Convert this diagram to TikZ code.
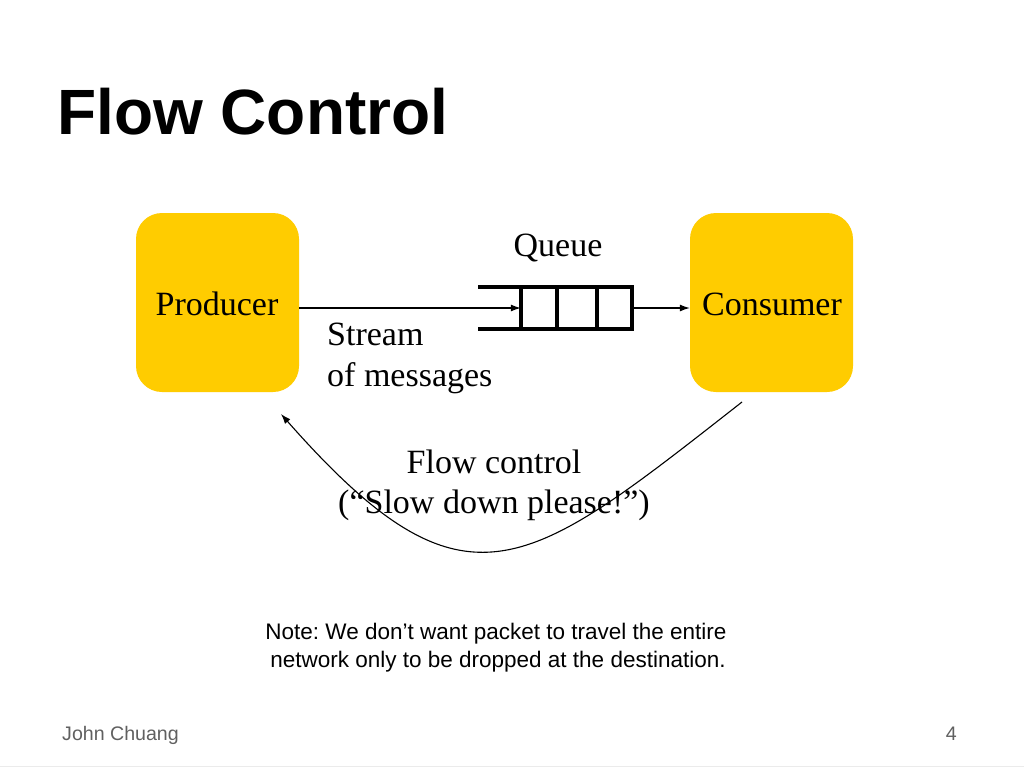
\documentclass[tikz,border=0pt]{standalone}
\usepackage{fontspec}
\setmainfont{Liberation Serif}
\newfontfamily\arialfont{Liberation Sans}
\usetikzlibrary{arrows.meta}
\definecolor{boxyellow}{HTML}{FFCC00}
\definecolor{footgray}{HTML}{606060}
\frenchspacing
\begin{document}
\begin{tikzpicture}[x=1pt,y=-1pt,
  agentbox/.style={fill=boxyellow,draw=none,rounded corners=26pt,minimum width=163pt,minimum height=179pt,inner sep=0pt},
  serif/.style={font=\fontsize{34}{40}\selectfont,inner sep=0pt},
  arr/.style={-{Latex[length=10pt,width=7pt]},line width=1.1pt},
  qline/.style={line width=4pt},
  foot/.style={font=\arialfont\fontsize{19.6}{24}\selectfont,text=footgray,inner sep=0pt}]
\useasboundingbox[fill=white] (0,0) rectangle (1024,768);
% title
\node[anchor=base west,inner sep=0pt,font=\arialfont\bfseries\fontsize{64}{74}\selectfont] (title) at (57,134) {Flow Control};
% boxes
\node[agentbox] (prod) at (217.5,302.5) {};
\node[agentbox] (cons) at (771.5,302.5) {};
\node[serif,anchor=base] (prodtxt) at (217,315) {Producer};
\node[serif,anchor=base] (constxt) at (772,315) {Consumer};
% queue
\node[draw=none,minimum width=111pt,minimum height=42pt,inner sep=0pt] (queue) at (576.5,308) {};
\draw[qline] (478,287) -- (632,287) -- (632,329) -- (478,329);
\draw[qline] (521,287) -- (521,329);
\draw[qline] (557,287) -- (557,329);
\draw[qline] (597,287) -- (597,329);
\node[serif,anchor=base] (qtxt) at (558,256) {Queue};
% arrows
\draw[arr] (prod.east |- queue.west) -- (queue.west);
\draw[arr] (queue.east) -- (cons.west |- queue.east);
\node[serif,anchor=base west] (stream1) at (327,345) {Stream};
\node[serif,anchor=base west] (stream2) at (327,386) {of messages};
% feedback curve
\coordinate (cstart) at (742,402);
\coordinate (pend) at (281,414);
\draw[arr] (cstart) .. controls (526,571) and (466,624) .. (pend);
\node[serif,anchor=base] (fc1) at (494,473) {Flow control};
\node[serif,anchor=base] (fc2) at (494,513) {(“Slow down please!”)};
% note
\node[anchor=base,inner sep=0pt,font=\arialfont\fontsize{22.5}{27}\selectfont] (note1) at (496,639) {Note: We don’t want packet to travel the entire};
\node[anchor=base,inner sep=0pt,font=\arialfont\fontsize{22.5}{27}\selectfont] (note2) at (498,667) {network only to be dropped at the destination.};
% footer
\node[foot,anchor=base west] (author) at (62,740) {John Chuang};
\node[foot,anchor=base east] (page) at (957,740) {4};
\draw[line width=1pt,draw=black!8] (0,766) -- (1024,766);
\end{tikzpicture}
\end{document}
